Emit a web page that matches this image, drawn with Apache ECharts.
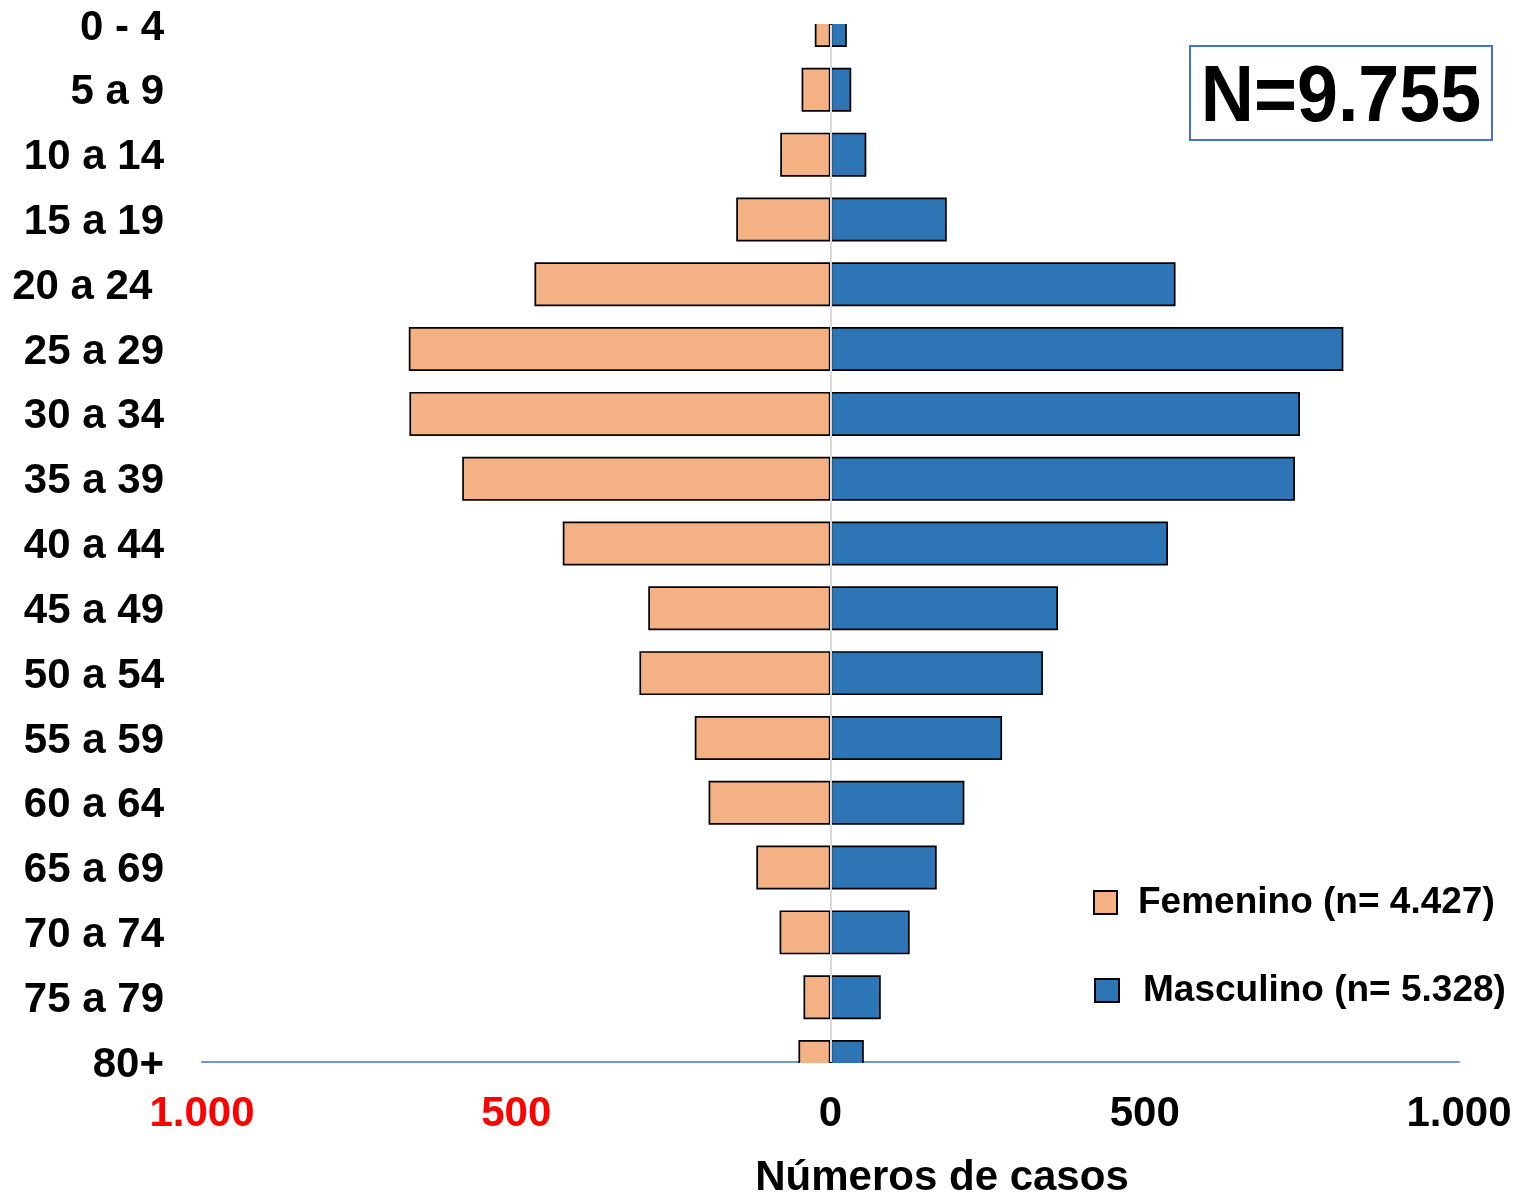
<!DOCTYPE html>
<html>
<head>
<meta charset="utf-8">
<script src="https://cdn.jsdelivr.net/npm/echarts@6/dist/echarts.min.js"></script>
<style>
html,body{margin:0;padding:0;background:#fff;}
#chart{width:1517px;height:1195px;}
</style>
</head>
<body>
<div id="chart"></div>
<script>
const ageGroups = ['0 - 4','5 a 9','10 a 14','15 a 19','20 a 24 ','25 a 29','30 a 34','35 a 39','40 a 44','45 a 49','50 a 54','55 a 59','60 a 64','65 a 69','70 a 74','75 a 79','80+'];
const femenino = [25, 46, 80, 150, 471, 671, 670, 586, 426, 290, 304, 216, 194, 118, 81, 43, 51];
const masculino = [26, 33, 57, 185, 549, 816, 747, 739, 537, 362, 338, 273, 213, 169, 126, 80, 53];
const femeninoName = 'Femenino (n= 4.427)';
const masculinoName = 'Masculino (n= 5.328)';
const totalLabel = 'N=9.755';
const xAxisTitle = 'Números de casos';

const FONT = "'Liberation Sans', Arial, sans-serif";
const chart = echarts.init(document.getElementById('chart'));

function fmt(v) {
  const a = Math.abs(v);
  return String(a).replace(/\B(?=(\d{3})+(?!\d))/g, '.');
}

chart.setOption({
  animation: false,
  backgroundColor: '#ffffff',
  grid: { left: 202, right: 58, top: 25, bottom: 133, containLabel: false },
  xAxis: {
    type: 'value',
    min: -1000, max: 1000, interval: 500,
    splitLine: { show: false },
    axisTick: { show: false },
    axisLine: { show: true, lineStyle: { color: '#7393d3', width: 2 } },
    axisLabel: {
      margin: 31,
      fontFamily: FONT, fontWeight: 'bold', fontSize: 42,
      formatter: fmt,
      color: function (v) { return v < 0 ? '#ff0000' : '#000000'; }
    }
  },
  yAxis: {
    type: 'category',
    data: ageGroups,
    inverse: true,
    boundaryGap: false,
    axisLine: { show: false },
    axisTick: { show: false },
    splitLine: { show: false },
    axisLabel: {
      margin: 38,
      formatter: function (v) { return '{a|' + v + '}'; },
      rich: {
        a: { padding: [6, 0, 0, 0], fontFamily: FONT, fontWeight: 'bold', fontSize: 42, color: '#000' }
      }
    }
  },
  legend: [
    {
      data: [femeninoName],
      left: 1093, top: 884, padding: 0,
      itemWidth: 23, itemHeight: 23,
      icon: 'rect',
      textStyle: { fontFamily: FONT, fontWeight: 'bold', fontSize: 37, color: '#000', padding: [0, 0, 0, 16] }
    },
    {
      data: [masculinoName],
      left: 1094, top: 972, padding: 0,
      itemWidth: 24, itemHeight: 23,
      icon: 'rect',
      textStyle: { fontFamily: FONT, fontWeight: 'bold', fontSize: 37, color: '#000', padding: [0, 0, 0, 19] }
    }
  ],
  series: [
    {
      name: femeninoName,
      type: 'bar',
      barWidth: 44,
      barGap: '-100%',
      data: femenino.map(v => -v),
      itemStyle: { color: '#F4B183', borderColor: '#000', borderWidth: 1.7 }
    },
    {
      name: masculinoName,
      type: 'bar',
      barWidth: 44,
      barGap: '-100%',
      data: masculino,
      itemStyle: { color: '#2E75B6', borderColor: '#000', borderWidth: 1.7 },
      markLine: {
        silent: true,
        symbol: 'none',
        label: { show: false },
        lineStyle: { color: '#d9d9d9', width: 2, type: 'solid' },
        data: [{ xAxis: 0 }]
      }
    }
  ],
  graphic: [
    {
      type: 'rect', z: 100, silent: true,
      shape: { x: 202, y: 0, width: 1257, height: 24 },
      style: { fill: '#ffffff' }
    },
    {
      type: 'rect', z: 100, silent: true,
      shape: { x: 202, y: 1063, width: 1257, height: 28 },
      style: { fill: '#ffffff' }
    },
    {
      type: 'rect', z: 100,
      shape: { x: 1190, y: 46, width: 302, height: 94 },
      style: { fill: 'none', stroke: '#4472C4', lineWidth: 2 }
    },
    {
      type: 'text', z: 100,
      x: 1341, y: 99,
      scaleX: 0.92,
      style: {
        text: totalLabel, fill: '#000',
        font: 'bold 80px ' + FONT,
        textAlign: 'center', textVerticalAlign: 'middle'
      }
    },
    {
      type: 'text', z: 100,
      x: 942, y: 1178,
      style: {
        text: xAxisTitle, fill: '#000',
        font: 'bold 42px ' + FONT,
        textAlign: 'center', textVerticalAlign: 'middle'
      }
    }
  ]
});
</script>
</body>
</html>
